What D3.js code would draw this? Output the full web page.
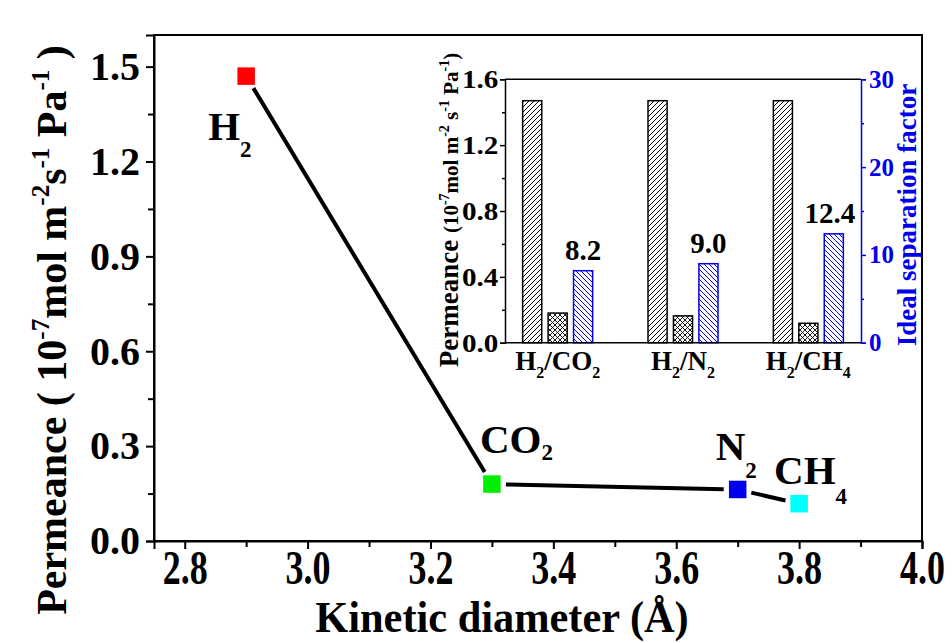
<!DOCTYPE html>
<html>
<head>
<meta charset="utf-8">
<script src="https://cdn.jsdelivr.net/npm/d3@7/dist/d3.min.js"></script>
<style>
  html, body { margin: 0; padding: 0; background: #fff; }
  svg { display: block; }
  text { font-family: "Liberation Serif", "Times New Roman", serif; font-weight: bold; }
</style>
</head>
<body>
<svg id="chart" width="952" height="643"></svg>
<script>
// ---------------- data ----------------
const gases = ["H2", "CO2", "N2", "CH4"];
const kineticDiameter = [2.9, 3.3, 3.7, 3.8];
const gasPermeance = [1.47, 0.18, 0.163, 0.118];
const xTicks = [2.8, 3.0, 3.2, 3.4, 3.6, 3.8, 4.0];
const yTicks = [0.0, 0.3, 0.6, 0.9, 1.2, 1.5];

const pairs = ["H2/CO2", "H2/N2", "H2/CH4"];
const h2Permeance = [1.47, 1.47, 1.47];
const otherPermeance = [0.18, 0.163, 0.118];
const separationFactor = [8.2, 9.0, 12.4];
const insetLeftTicks = [0.0, 0.4, 0.8, 1.2, 1.6];
const insetRightTicks = [0, 10, 20, 30];

// ---------------- styles ----------------
const markerColors = ["#ff0000", "#00ee00", "#0000ee", "#00ffff"];
const BLUE = "#0000ee";
const FONT_TICK = 40;

const svg = d3.select("#chart");

// rich text helper: parts = [[text, kind, size]] kind: n | sup | sub
function rich(textSel, parts, shift) {
  let cur = 0;
  parts.forEach(([t, k, s]) => {
    const target = k === "sup" ? -shift : (k === "sub" ? shift : 0);
    textSel.append("tspan")
      .attr("dy", target - cur)
      .attr("font-size", s)
      .text(t);
    cur = target;
  });
}
function formulaParts(s, size, subSize) {
  const out = [];
  s.replace(/([^0-9]+)|([0-9]+)/g, (m, a, b) => { out.push(a ? [a, "n", size] : [b, "sub", subSize]); });
  return out;
}
function styleTicks(g, size, color) {
  g.selectAll("text").attr("font-size", size).attr("fill", color)
    .attr("font-family", "Liberation Serif").attr("font-weight", "bold");
}

// ---------------- patterns ----------------
const defs = svg.append("defs");
const pf = defs.append("pattern").attr("id", "hatchFwd").attr("patternUnits", "userSpaceOnUse")
  .attr("width", 5).attr("height", 5);
pf.append("rect").attr("width", 5).attr("height", 5).attr("fill", "#fff");
pf.append("path").attr("d", "M-1,1 l2,-2 M0,5 l5,-5 M4,6 l2,-2").attr("stroke", "#000").attr("stroke-width", 1);

const pb = defs.append("pattern").attr("id", "hatchBack").attr("patternUnits", "userSpaceOnUse")
  .attr("width", 5).attr("height", 5);
pb.append("rect").attr("width", 5).attr("height", 5).attr("fill", "#fff");
pb.append("path").attr("d", "M-1,4 l2,2 M0,0 l5,5 M4,-1 l2,2").attr("stroke", BLUE).attr("stroke-width", 1);

const pc = defs.append("pattern").attr("id", "hatchCross").attr("patternUnits", "userSpaceOnUse")
  .attr("width", 5).attr("height", 5);
pc.append("rect").attr("width", 5).attr("height", 5).attr("fill", "#fff");
pc.append("path").attr("d", "M-1,1 l2,-2 M0,5 l5,-5 M4,6 l2,-2 M-1,4 l2,2 M0,0 l5,5 M4,-1 l2,2")
  .attr("stroke", "#000").attr("stroke-width", 0.9);

// ---------------- main chart ----------------
const M = { left: 154, right: 922, top: 35, bottom: 541 };
const x = d3.scaleLinear().domain([2.75, 4.0]).range([M.left, M.right]);
const y = d3.scaleLinear().domain([0, 1.6]).range([M.bottom, M.top]);

// frame
svg.append("rect").attr("x", M.left).attr("y", M.top)
  .attr("width", M.right - M.left).attr("height", M.bottom - M.top)
  .attr("fill", "none").attr("stroke", "#000").attr("stroke-width", 2);

// minor ticks
const xMinor = d3.range(2.9, 4.0, 0.2);
const yMinor = d3.range(0.15, 1.6, 0.3);
svg.append("g").attr("transform", `translate(0,${M.bottom})`)
  .call(d3.axisBottom(x).tickValues(xMinor).tickSize(6).tickFormat(""))
  .call(g => { g.select(".domain").remove(); g.selectAll("line").attr("stroke-width", 2); });
svg.append("g").attr("transform", `translate(${M.left},0)`)
  .call(d3.axisLeft(y).tickValues(yMinor).tickSize(6).tickFormat(""))
  .call(g => { g.select(".domain").remove(); g.selectAll("line").attr("stroke-width", 2); });

// major axes
svg.append("g").attr("transform", `translate(0,${M.bottom})`)
  .call(d3.axisBottom(x).tickValues(xTicks).tickSize(8).tickPadding(-1).tickFormat(d3.format(".1f")))
  .call(g => {
    g.select(".domain").attr("stroke-width", 2);
    g.selectAll("line").attr("stroke-width", 2);
    styleTicks(g, FONT_TICK, "#000");
    g.selectAll("text").attr("transform", "scale(0.9,1.22)");
  });
svg.append("g").attr("transform", `translate(${M.left},0)`)
  .call(d3.axisLeft(y).tickValues(yTicks).tickSize(8).tickPadding(6).tickFormat(d3.format(".1f")))
  .call(g => {
    g.select(".domain").attr("stroke-width", 2);
    g.selectAll("line").attr("stroke-width", 2);
    styleTicks(g, FONT_TICK, "#000");
  });

// axis titles
svg.append("text").attr("transform", "translate(502,632) scale(1.06,1.1)")
  .attr("text-anchor", "middle").attr("font-size", 40).text("Kinetic diameter (Å)");

const yt = svg.append("text").attr("transform", "translate(66,330) rotate(-90)")
  .attr("text-anchor", "middle");
rich(yt, [["Permeance ( 10", "n", 42], ["-7", "sup", 25], ["mol m", "n", 42], ["-2", "sup", 25], ["s", "n", 42],
          ["-1", "sup", 25], [" Pa", "n", 42], ["-1", "sup", 25], [" )", "n", 42]], 17);

// line with gaps around markers
const pts = kineticDiameter.map((k, i) => [x(k), y(gasPermeance[i])]);
const GAP = 14;
for (let i = 0; i < pts.length - 1; i++) {
  const [x1, y1] = pts[i], [x2, y2] = pts[i + 1];
  const L = Math.hypot(x2 - x1, y2 - y1);
  const ux = (x2 - x1) / L, uy = (y2 - y1) / L;
  svg.append("line")
    .attr("x1", x1 + ux * GAP).attr("y1", y1 + uy * GAP)
    .attr("x2", x2 - ux * GAP).attr("y2", y2 - uy * GAP)
    .attr("stroke", "#000").attr("stroke-width", 4);
}
// markers
const MS = 17.5;
svg.append("g").selectAll("rect").data(gases).join("rect")
  .attr("x", (d, i) => x(kineticDiameter[i]) - MS / 2)
  .attr("y", (d, i) => y(gasPermeance[i]) - MS / 2)
  .attr("width", MS).attr("height", MS)
  .attr("fill", (d, i) => markerColors[i]);

// gas labels (offsets relative to marker)
const labelOffsets = [[-38, 64, 17], [-12, -31, 7], [-22, -29, 18], [-25, -20, 20]];
gases.forEach((g, i) => {
  const [dx, dy, sh] = labelOffsets[i];
  const t = svg.append("text").attr("x", x(kineticDiameter[i]) + dx).attr("y", y(gasPermeance[i]) + dy);
  rich(t, formulaParts(g, 41, 23), sh);
});

// ---------------- inset ----------------
const I = { left: 505, right: 861, top: 79.3, bottom: 342.7 };
const ix = d3.scalePoint().domain(pairs).range([I.left, I.right]).padding(0.42);
const iyL = d3.scaleLinear().domain([0, 1.6]).range([I.bottom, I.top]);
const iyR = d3.scaleLinear().domain([0, 30]).range([I.bottom, I.top]);
const sub = d3.scaleBand().domain(["h2", "other", "sf"]).range([-35, 35]).paddingInner(0.25);

// bars
const barG = svg.append("g");
pairs.forEach((p, i) => {
  const cx = ix(p);
  barG.append("rect").attr("x", cx + sub("h2")).attr("width", sub.bandwidth())
    .attr("y", iyL(h2Permeance[i])).attr("height", I.bottom - iyL(h2Permeance[i]))
    .attr("fill", "url(#hatchFwd)").attr("stroke", "#000").attr("stroke-width", 1.5);
  barG.append("rect").attr("x", cx + sub("other")).attr("width", sub.bandwidth())
    .attr("y", iyL(otherPermeance[i])).attr("height", I.bottom - iyL(otherPermeance[i]))
    .attr("fill", "url(#hatchCross)").attr("stroke", "#000").attr("stroke-width", 1.5);
  barG.append("rect").attr("x", cx + sub("sf")).attr("width", sub.bandwidth())
    .attr("y", iyR(separationFactor[i])).attr("height", I.bottom - iyR(separationFactor[i]))
    .attr("fill", "url(#hatchBack)").attr("stroke", BLUE).attr("stroke-width", 1.5);
  barG.append("text").attr("x", cx + sub("sf") + sub.bandwidth() / 2 - (i === 2 ? 4 : 0))
    .attr("y", iyR(separationFactor[i]) - 11).attr("text-anchor", "middle")
    .attr("font-size", 29).text(separationFactor[i].toFixed(1));
});

// inset frame lines
svg.append("line").attr("x1", I.left).attr("x2", I.right).attr("y1", I.top).attr("y2", I.top)
  .attr("stroke", "#000").attr("stroke-width", 1.5);
svg.append("line").attr("x1", I.left).attr("x2", I.right).attr("y1", I.bottom).attr("y2", I.bottom)
  .attr("stroke", "#000").attr("stroke-width", 1.5);

// inset left axis
svg.append("g").attr("transform", `translate(${I.left},0)`)
  .call(d3.axisLeft(iyL).tickValues(d3.range(0.2, 1.6, 0.4)).tickSize(3).tickFormat(""))
  .call(g => { g.select(".domain").remove(); g.selectAll("line").attr("stroke-width", 1.5); });
svg.append("g").attr("transform", `translate(${I.left},0)`)
  .call(d3.axisLeft(iyL).tickValues(insetLeftTicks).tickSize(5).tickPadding(1).tickFormat(d3.format(".1f")))
  .call(g => {
    g.select(".domain").attr("stroke-width", 1.5);
    g.selectAll("line").attr("stroke-width", 1.5);
    styleTicks(g, 26, "#000");
    g.selectAll("text").attr("transform", "scale(1.12,1)");
  });

// inset right axis
svg.append("g").attr("transform", `translate(${I.right},0)`)
  .call(d3.axisRight(iyR).tickValues([5, 15, 25]).tickSize(3).tickFormat(""))
  .call(g => { g.select(".domain").remove(); g.selectAll("line").attr("stroke", BLUE).attr("stroke-width", 1.5); });
svg.append("g").attr("transform", `translate(${I.right},0)`)
  .call(d3.axisRight(iyR).tickValues(insetRightTicks).tickSize(5).tickPadding(3))
  .call(g => {
    g.select(".domain").attr("stroke", BLUE).attr("stroke-width", 1.5);
    g.selectAll("line").attr("stroke", BLUE).attr("stroke-width", 1.5);
    styleTicks(g, 25, BLUE);
  });

// inset category labels
pairs.forEach(p => {
  const t = svg.append("text").attr("x", ix(p)).attr("y", 370).attr("text-anchor", "middle");
  rich(t, formulaParts(p, 27, 16), 8);
});

// inset axis titles
const iyt = svg.append("text").attr("transform", "translate(458,210) rotate(-90)").attr("text-anchor", "middle");
rich(iyt, [["Permeance  ", "n", 27], ["(10", "n", 21], ["-7", "sup", 14], ["mol m", "n", 21], ["-2", "sup", 14],
           [" s", "n", 21], ["-1", "sup", 14], [" Pa", "n", 21], ["-1", "sup", 14], [")", "n", 21]], 9);

svg.append("text").attr("transform", "translate(916,215) rotate(-90)").attr("text-anchor", "middle")
  .attr("font-size", 27).attr("fill", BLUE).text("Ideal separation factor");
</script>
</body>
</html>
